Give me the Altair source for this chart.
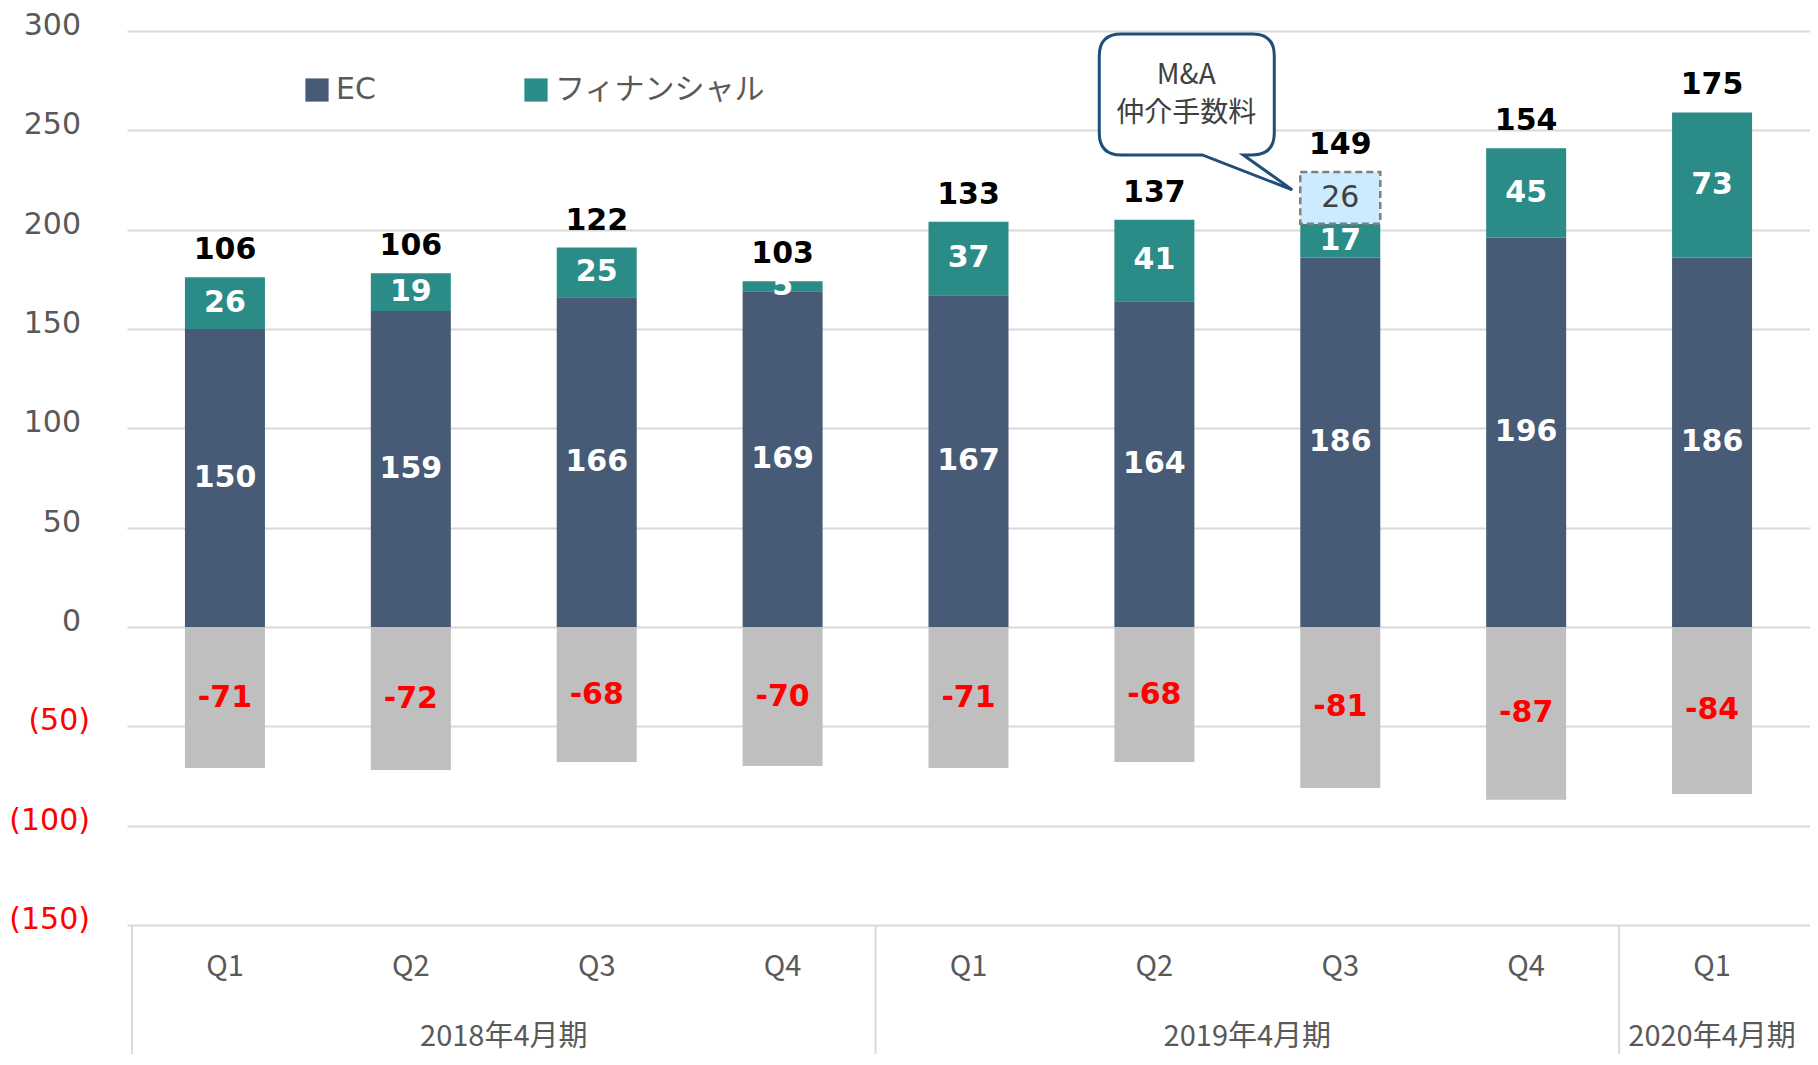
import altair as alt
import pandas as pd

# ---------------- data ----------------
quarters = ["Q1", "Q2", "Q3", "Q4", "Q1", "Q2", "Q3", "Q4", "Q1"]
fiscal_years = ["2018年4月期"] * 4 + ["2019年4月期"] * 4 + ["2020年4月期"]
ec = [150, 159, 166, 169, 167, 164, 186, 196, 186]
financial = [26, 19, 25, 5, 37, 41, 17, 45, 73]
ma_fee = [0, 0, 0, 0, 0, 0, 26, 0, 0]
costs = [-71, -72, -68, -70, -71, -68, -81, -87, -84]
totals = [106, 106, 122, 103, 133, 137, 149, 154, 175]
series_names = ["EC", "フィナンシャル"]
callout_lines = ["M&A", "仲介手数料"]
y_ticks = [-150, -100, -50, 0, 50, 100, 150, 200, 250, 300]

# ---------------- styling ----------------
C_EC = "#475B76"
C_FIN = "#2B8C87"
C_COST = "#BFBFBF"
C_GRID = "#D9D9D9"
C_TEXT = "#595959"
NUM_FONT = "DejaVu Sans"
JP_FONT = "Noto Sans CJK JP"
W, H = 1683, 894
BAR = 80

base = pd.DataFrame({
    "i": list(range(len(quarters))),
    "q": quarters,
    "fy": fiscal_years,
    "ec": ec,
    "fin": financial,
    "ma": ma_fee,
    "cost": costs,
    "total": totals,
})
base["xc"] = base["i"] + 0.5
base["top"] = base["ec"] + base["fin"] + base["ma"]

stack = pd.concat([
    pd.DataFrame({"xc": base["xc"], "series": series_names[0], "y0": 0,
                  "y1": base["ec"], "val": base["ec"]}),
    pd.DataFrame({"xc": base["xc"], "series": series_names[1], "y0": base["ec"],
                  "y1": base["ec"] + base["fin"], "val": base["fin"]}),
], ignore_index=True)
stack["mid"] = (stack["y0"] + stack["y1"]) / 2

ticks_df = pd.DataFrame({"v": y_ticks})

xs = alt.Scale(domain=[0, len(quarters)], nice=False, zero=False)
ys = alt.Scale(domain=[-150, 300], nice=False, zero=False)
X = alt.X("xc:Q", scale=xs, axis=None)

yaxis = alt.Axis(
    values=y_ticks, title=None, grid=True, gridColor=C_GRID, gridWidth=2,
    domain=False, ticks=False, labels=False,
)


def Y(field):
    return alt.Y(field, scale=ys, axis=yaxis)


# y-axis labels: positives in gray, negatives in red with parentheses
ylab_pos = alt.Chart(ticks_df).transform_filter("datum.v >= 0").mark_text(
    font=NUM_FONT, fontSize=30, color=C_TEXT, align="right", baseline="middle", dy=-5
).encode(x=alt.value(-46), y=Y("v:Q"), text="v:Q")
ylab_neg = alt.Chart(ticks_df).transform_filter("datum.v < 0").transform_calculate(
    lab="'(' + (-datum.v) + ')'"
).mark_text(
    font=NUM_FONT, fontSize=30, color="#FF0000", align="right", baseline="middle", dy=-5
).encode(x=alt.value(-37), y=Y("v:Q"), text="lab:N")

cost_bars = alt.Chart(base).mark_bar(size=BAR, color=C_COST).encode(
    x=X, y=Y("cost:Q"), y2=alt.datum(0),
)

stack_bars = alt.Chart(stack).mark_bar(size=BAR).encode(
    x=X,
    y=Y("y0:Q"),
    y2="y1:Q",
    color=alt.Color(
        "series:N",
        scale=alt.Scale(domain=series_names, range=[C_EC, C_FIN]),
        legend=alt.Legend(
            title=None, orient="none", legendX=175, legendY=44, direction="horizontal",
            columns=2, columnPadding=145, padding=0, symbolType="square",
            symbolSize=540, symbolStrokeWidth=0, labelOffset=4, labelLimit=500,
            labelFont=NUM_FONT + ", " + JP_FONT, labelFontSize=30, labelColor=C_TEXT,
        ),
    ),
)

ma_box = alt.Chart(base).transform_filter("datum.ma > 0").transform_calculate(
    y1="datum.ec + datum.fin"
).mark_bar(
    size=BAR, fill="#CCEBFF", stroke="#7F7F7F", strokeDash=[7, 4], strokeWidth=2.5
).encode(x=X, y=Y("y1:Q"), y2="top:Q")

seg_labels = alt.Chart(stack).mark_text(
    font=NUM_FONT, fontSize=30, fontWeight="bold", color="white", baseline="middle"
).encode(x=X, y=Y("mid:Q"), text="val:Q")

ma_label = alt.Chart(base).transform_filter("datum.ma > 0").transform_calculate(
    mid="datum.ec + datum.fin + datum.ma / 2"
).mark_text(font=NUM_FONT, fontSize=30, color="#404040", baseline="middle").encode(
    x=X, y=Y("mid:Q"), text="ma:Q"
)

cost_labels = alt.Chart(base).transform_calculate(
    mid="datum.cost / 2", lab="'-' + (-datum.cost)"
).mark_text(
    font=NUM_FONT, fontSize=30, fontWeight="bold", color="#FF0000", baseline="middle"
).encode(x=X, y=Y("mid:Q"), text="lab:N")

total_labels = alt.Chart(base).mark_text(
    font=NUM_FONT, fontSize=30, fontWeight="bold", color="black",
    baseline="alphabetic", dy=-18
).encode(x=X, y=Y("top:Q"), text="total:Q")

# speech-bubble callout anchored at the M&A segment (path in pixels, size=4 -> scale 1)
bubble_path = (
    "M -219 -164 L -88 -164 Q -66 -164 -66 -142 L -66 -65 Q -66 -43 -88 -43 "
    "L -97 -43 L -48 -8 L -138 -43 L -219 -43 Q -241 -43 -241 -65 "
    "L -241 -142 Q -241 -164 -219 -164 Z"
)
anchor = alt.Chart(base).transform_filter("datum.ma > 0").transform_calculate(
    mid="datum.ec + datum.fin + datum.ma / 2",
    l1="'" + callout_lines[0] + "'",
    l2="'" + callout_lines[1] + "'",
)
bubble = anchor.mark_point(
    shape=bubble_path, size=4, filled=True, fill="white", stroke="#1F4E79",
    strokeWidth=3, opacity=1, fillOpacity=1, strokeOpacity=1
).encode(x=X, y=Y("mid:Q"))
bubble_t1 = anchor.mark_text(
    font=JP_FONT, fontSize=28, color="#404040", baseline="middle", dx=-154, dy=-122
).encode(x=X, y=Y("mid:Q"), text="l1:N")
bubble_t2 = anchor.mark_text(
    font=JP_FONT, fontSize=28, color="#404040", baseline="middle", dx=-154, dy=-84
).encode(x=X, y=Y("mid:Q"), text="l2:N")

# two-level category axis drawn below the plot
q_labels = alt.Chart(base).mark_text(
    font=JP_FONT, fontSize=29, color=C_TEXT, baseline="middle"
).encode(x=X, y=alt.value(H + 42), text="q:N")

separators = alt.Chart(base).transform_aggregate(
    start="min(i)", groupby=["fy"]
).mark_rule(color=C_GRID, strokeWidth=2).encode(
    x=alt.X("start:Q", scale=xs, axis=None), y=alt.value(H), y2=alt.value(H + 160)
)

fy_labels = alt.Chart(base).transform_aggregate(
    center="mean(xc)", groupby=["fy"]
).mark_text(font=JP_FONT, fontSize=29, color=C_TEXT, baseline="middle").encode(
    x=alt.X("center:Q", scale=xs, axis=None), y=alt.value(H + 112), text="fy:N"
)

chart = alt.layer(
    cost_bars, stack_bars, ma_box, seg_labels, ma_label, cost_labels, total_labels,
    ylab_pos, ylab_neg, q_labels, separators, fy_labels, bubble, bubble_t1, bubble_t2,
).properties(
    width=W, height=H,
    autosize=alt.AutoSizeParams(type="none"),
    padding={"left": 119, "top": 23, "right": 0, "bottom": 129},
).configure_view(stroke=None)

chart.save("out.html", embed_options={"renderer": "svg", "actions": False})
